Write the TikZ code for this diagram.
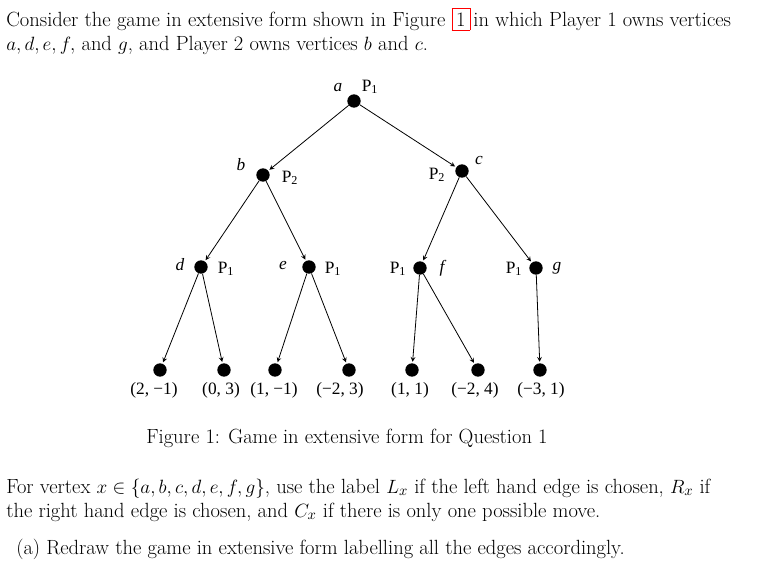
\documentclass[tikz,border=0pt]{standalone}
\usepackage{fontspec}
\usepackage{amsmath,amssymb}
\newfontfamily\tms{Liberation Serif}
\begin{document}
\begin{tikzpicture}[x=0.75pt,y=-0.75pt,
  vtx/.style={circle,fill=black,inner sep=0pt,minimum size=10pt},
  edge/.style={->,>=stealth,semithick,shorten >=1pt},
  lab/.style={font=\tms\fontsize{13}{15}\selectfont,inner sep=1pt},
  body/.style={anchor=base west,inner sep=0pt,font=\fontsize{15.4}{19}\selectfont}]
\useasboundingbox (0,0) rectangle (766,568);
\node[body] (t1) at (6,26) {Consider the game in extensive form shown in Figure \textcolor{red}{\fbox{\color{black}1}}\,in which Player 1 owns vertices};
\node[body] (t2) at (6,50) {$a, d, e, f,$ and $g$, and Player 2 owns vertices $b$ and $c$.};
\node[vtx] (a) at (354,101) {};
\node[vtx] (b) at (263,175) {};
\node[vtx] (c) at (462,171) {};
\node[vtx] (d) at (201,267) {};
\node[vtx] (e) at (309,267) {};
\node[vtx] (f) at (420,268) {};
\node[vtx] (g) at (536,268) {};
\foreach \n/\x in {l1/160,l2/224,l3/275,l4/349,l5/412,l6/478,l7/540}
  \node[vtx] (\n) at (\x,370) {};
\foreach \s/\t in {a/b,a/c,b/d,b/e,c/f,c/g,d/l1,d/l2,e/l3,e/l4,f/l5,f/l6,g/l7}
  \draw[edge] (\s) -- (\t);
\node[lab] (na) at (338,88) {\itshape a};
\node[lab] (pa) at (370,87) {P\textsubscript{1}};
\node[lab] (nb) at (241,165) {\itshape b};
\node[lab] (pb) at (290,178) {P\textsubscript{2}};
\node[lab] (nc) at (479,160) {\itshape c};
\node[lab] (pc) at (437,175) {P\textsubscript{2}};
\node[lab] (nd) at (180,265) {\itshape d};
\node[lab] (pd) at (226,269) {P\textsubscript{1}};
\node[lab] (ne) at (283,265) {\itshape e};
\node[lab] (pe) at (333,269) {P\textsubscript{1}};
\node[lab] (pf) at (398,269) {P\textsubscript{1}};
\node[lab] (nf) at (442,268) {\itshape f};
\node[lab] (pg) at (514,269) {P\textsubscript{1}};
\node[lab] (ng) at (557,268) {\itshape g};
\foreach \n/\x/\t in {l1/154/{(2, −1)},l2/221/{(0, 3)},l3/274/{(1, −1)},l4/340/{(−2, 3)},l5/410/{(1, 1)},l6/475/{(−2, 4)},l7/541/{(−3, 1)}}
  \node[lab] (v\n) at (\x,390) {\t};
\node[body,anchor=base] (cap) at (347,443) {Figure 1: Game in extensive form for Question 1};
\node[body] (p1) at (6,493) {For vertex $x\in\{a,b,c,d,e,f,g\}$, use the label $L_x$ if the left hand edge is chosen, $R_x$ if};
\node[body] (p2) at (6,517) {the right hand edge is chosen, and $C_x$ if there is only one possible move.};
\node[body] (p3) at (16,554) {(a) Redraw the game in extensive form labelling all the edges accordingly.};
\end{tikzpicture}
\end{document}
